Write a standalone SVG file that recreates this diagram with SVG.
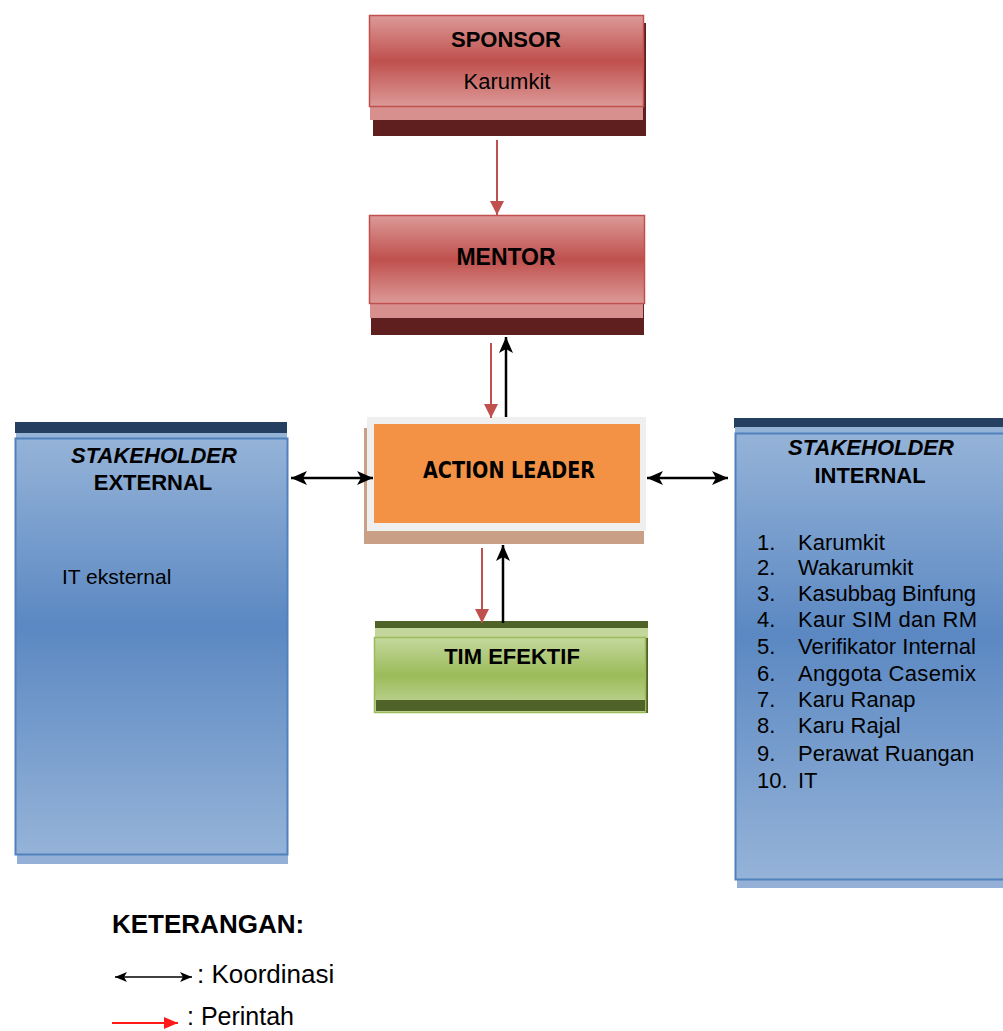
<svg xmlns="http://www.w3.org/2000/svg" width="1003" height="1031" viewBox="0 0 1003 1031">
<style>
.t{font-family:"Liberation Sans",Arial,sans-serif;fill:#000}
.b{font-weight:bold}
.c{text-anchor:middle}
.li{font-size:22px}
</style>
<defs>
<linearGradient id="gRed" x1="0" y1="0" x2="0" y2="1">
<stop offset="0" stop-color="#dc9a98"/><stop offset="0.5" stop-color="#bf504d"/><stop offset="1" stop-color="#dc9a98"/>
</linearGradient>
<linearGradient id="gGreen" x1="0" y1="0" x2="0" y2="1">
<stop offset="0" stop-color="#c4d89e"/><stop offset="0.5" stop-color="#9bbb59"/><stop offset="1" stop-color="#c4d89e"/>
</linearGradient>
<linearGradient id="gBlue" x1="0" y1="0" x2="0" y2="1">
<stop offset="0" stop-color="#95b3d8"/><stop offset="0.45" stop-color="#5b88c2"/><stop offset="1" stop-color="#95b3d8"/>
</linearGradient>
<marker id="aBlk" viewBox="0 0 16 14" refX="16" refY="7" markerWidth="16" markerHeight="14" markerUnits="userSpaceOnUse" orient="auto-start-reverse">
<path d="M0,0 L16,7 L0,14 L4,7 Z" fill="#000"/>
</marker>
<marker id="aRed" viewBox="0 0 14 14" refX="14" refY="7" markerWidth="14" markerHeight="14" markerUnits="userSpaceOnUse" orient="auto">
<path d="M0,0 L14,7 L0,14 Z" fill="#c0504d"/>
</marker>
<marker id="aBlkS" viewBox="0 0 12 10" refX="12" refY="5" markerWidth="12" markerHeight="10" markerUnits="userSpaceOnUse" orient="auto-start-reverse">
<path d="M0,0 L12,5 L0,10 L3,5 Z" fill="#000"/>
</marker>
<marker id="aRedL" viewBox="0 0 14 12" refX="14" refY="6" markerWidth="14" markerHeight="12" markerUnits="userSpaceOnUse" orient="auto">
<path d="M0,0 L14,6 L0,12 Z" fill="#ff1a1a"/>
</marker>
</defs>

<g id="sponsor">
<rect x="373" y="23" width="273" height="113" fill="#5e1f1e"/>
<rect x="370" y="100" width="273" height="20" fill="#d7908e"/>
<rect x="369.5" y="15.5" width="274" height="91" fill="url(#gRed)" stroke="#c0504d" stroke-width="1.5"/>
<text class="t b c" x="506" y="47" font-size="22">SPONSOR</text>
<text class="t c" x="507" y="89" font-size="22">Karumkit</text>
</g>

<g id="mentor">
<rect x="371" y="223" width="273" height="112" fill="#5e1f1e"/>
<rect x="370" y="300" width="273" height="18" fill="#d7908e"/>
<rect x="369.5" y="215.5" width="275" height="88" fill="url(#gRed)" stroke="#c0504d" stroke-width="1.5"/>
<text class="t b c" x="506" y="265" font-size="23">MENTOR</text>
</g>

<g id="action-leader">
<rect x="364" y="428" width="280" height="116" fill="#c9a086"/>
<rect x="367" y="417" width="279" height="114" fill="#efefef"/>
<rect x="374" y="424" width="266" height="99" fill="#f39244"/>
<text x="509" y="478" text-anchor="middle" fill="#000" font-size="23" font-weight="bold" style="font-family:'DejaVu Sans Condensed','DejaVu Sans',sans-serif" textLength="172" lengthAdjust="spacingAndGlyphs">ACTION LEADER</text>
</g>

<g id="tim-efektif">
<rect x="375" y="621" width="273" height="92" fill="#4f6228"/>
<rect x="375" y="628" width="273" height="10" fill="#c3d69b"/>
<rect x="374.5" y="637.5" width="271" height="75" fill="url(#gGreen)" stroke="#9bbb59" stroke-width="1.5"/>
<rect x="376" y="700" width="269" height="11" fill="#4f6228"/>
<text class="t b c" x="512" y="664" font-size="22">TIM EFEKTIF</text>
</g>

<g id="stakeholder-external">
<rect x="17" y="440" width="271" height="424" fill="#95b0d6"/>
<rect x="15" y="422" width="272" height="11" fill="#243f60"/>
<rect x="16" y="433" width="271" height="6" fill="#95b3d7"/>
<rect x="15.5" y="438.5" width="272" height="416" fill="url(#gBlue)" stroke="#4f81bd" stroke-width="2"/>
<text class="t b c" x="154" y="463" font-size="22" font-style="italic">STAKEHOLDER</text>
<text class="t b c" x="153" y="490" font-size="22">EXTERNAL</text>
<text class="t" x="62" y="584" font-size="21">IT eksternal</text>
</g>

<g id="stakeholder-internal">
<rect x="737" y="436" width="270" height="452" fill="#95b0d6"/>
<rect x="734" y="418" width="272" height="10" fill="#243f60"/>
<rect x="735" y="427" width="271" height="6" fill="#95b3d7"/>
<rect x="735.5" y="433.5" width="272" height="446" fill="url(#gBlue)" stroke="#4f81bd" stroke-width="2"/>
<text class="t b c" x="871" y="455" font-size="22" font-style="italic">STAKEHOLDER</text>
<text class="t b c" x="870" y="483" font-size="22">INTERNAL</text>
<g class="t li">
<text x="757" y="550">1.</text><text x="798" y="550">Karumkit</text>
<text x="757" y="575">2.</text><text x="798" y="575">Wakarumkit</text>
<text x="757" y="601">3.</text><text x="798" y="601" textLength="178" lengthAdjust="spacing">Kasubbag Binfung</text>
<text x="757" y="627">4.</text><text x="798" y="627" textLength="179" lengthAdjust="spacing">Kaur SIM dan RM</text>
<text x="757" y="654">5.</text><text x="798" y="654" textLength="178" lengthAdjust="spacingAndGlyphs">Verifikator Internal</text>
<text x="757" y="681">6.</text><text x="798" y="681" textLength="178" lengthAdjust="spacing">Anggota Casemix</text>
<text x="757" y="707">7.</text><text x="798" y="707">Karu Ranap</text>
<text x="757" y="733">8.</text><text x="798" y="733">Karu Rajal</text>
<text x="757" y="761">9.</text><text x="798" y="761">Perawat Ruangan</text>
<text x="757" y="788">10.</text><text x="798" y="788">IT</text>
</g>
</g>

<g id="connectors">
<line x1="497" y1="140" x2="497" y2="215" stroke="#c0504d" stroke-width="2" marker-end="url(#aRed)"/>
<line x1="491" y1="343" x2="491" y2="418" stroke="#c0504d" stroke-width="2" marker-end="url(#aRed)"/>
<line x1="506" y1="417" x2="506" y2="337" stroke="#000" stroke-width="2.5" marker-end="url(#aBlk)"/>
<line x1="482" y1="548" x2="482" y2="623" stroke="#c0504d" stroke-width="2" marker-end="url(#aRed)"/>
<line x1="503" y1="623" x2="503" y2="545" stroke="#000" stroke-width="2.5" marker-end="url(#aBlk)"/>
<line x1="291" y1="478" x2="373" y2="478" stroke="#000" stroke-width="2.5" marker-start="url(#aBlk)" marker-end="url(#aBlk)"/>
<line x1="647" y1="478" x2="728" y2="478" stroke="#000" stroke-width="2.5" marker-start="url(#aBlk)" marker-end="url(#aBlk)"/>
</g>

<g id="legend">
<text class="t b" x="112" y="933" font-size="26">KETERANGAN:</text>
<line x1="115" y1="977" x2="192" y2="977" stroke="#000" stroke-width="1.5" marker-start="url(#aBlkS)" marker-end="url(#aBlkS)"/>
<text class="t" x="197" y="983" font-size="26">: Koordinasi</text>
<line x1="112" y1="1023" x2="178" y2="1023" stroke="#ff1a1a" stroke-width="2" marker-end="url(#aRedL)"/>
<text class="t" x="187" y="1025" font-size="25">: Perintah</text>
</g>
</svg>
